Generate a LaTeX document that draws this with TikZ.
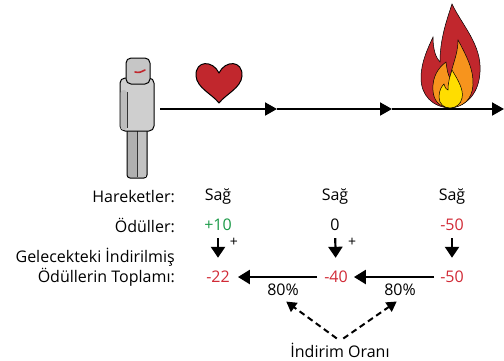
\documentclass[tikz,border=0pt]{standalone}
\usepackage{fontspec}
\setmainfont{Open Sans}
\usetikzlibrary{arrows.meta}
\definecolor{rewred}{HTML}{D12A36}
\definecolor{rewgreen}{HTML}{1B9A48}
\definecolor{heartred}{HTML}{C1272D}
\definecolor{flameorange}{HTML}{F7941D}
\definecolor{flameyellow}{HTML}{FFDD00}
\begin{document}
\begin{tikzpicture}[x=1pt,y=-1pt,
  lbl/.style={anchor=east,inner sep=0pt,font=\fontsize{16}{18}\selectfont},
  val/.style={inner sep=0pt,minimum height=18pt,font=\fontsize{16}{18}\selectfont},
  plus/.style={inner sep=0pt,font=\fontsize{14}{15}\selectfont},
  timeline/.style={line width=2pt,-{Triangle[length=12pt,width=13pt]}},
  downarr/.style={line width=2.2pt,-{Triangle[length=11pt,width=14pt]}},
  backarr/.style={line width=2.5pt,-{Triangle[length=12pt,width=14pt]}},
  dasharr/.style={line width=2pt,dash pattern=on 6pt off 4pt,-{Triangle[length=10pt,width=11pt]}},
  outl/.style={draw=black,line width=1pt,line join=round}]
\useasboundingbox (0,0) rectangle (504,360);

% robot: legs, body, head
\filldraw[outl,fill=gray!62,rounded corners=3pt] (127,124) rectangle (147,178);
\fill[gray!48] (137.5,128) rectangle (146.3,177);
\draw[line width=0.6pt,gray!40!black] (137.5,128) -- (137.5,177);
\filldraw[outl,fill=gray!38,rounded corners=5pt] (120,78) rectangle (154,131);
\fill[gray!52,rounded corners=3pt] (120.6,90) rectangle (127,130);
\draw[line width=0.6pt,gray!40!black] (127,92) -- (127,128);
\filldraw[outl,fill=gray!45,rounded corners=5pt] (126,58) rectangle (150,84);
\draw[heartred,line width=1.6pt,line cap=round] (135,72) .. controls (139,73) and (142,72) .. (145,70);

% heart
\filldraw[outl,fill=heartred] (219,73)
  .. controls (213,60) and (195,60) .. (196,76)
  .. controls (197,88) and (212,94) .. (219,103)
  .. controls (226,94) and (241,88) .. (242,76)
  .. controls (243,60) and (225,60) .. (219,73) -- cycle;

% fire
\filldraw[draw=black,line width=0.5pt,fill=heartred] (452,4)
  .. controls (462,25) and (482,45) .. (480,72)
  .. controls (479,92) and (468,106) .. (450,108)
  .. controls (432,107) and (421,95) .. (421,78)
  .. controls (421,62) and (428,48) .. (433,37)
  .. controls (433,50) and (436,58) .. (440,62)
  .. controls (440,40) and (446,22) .. (452,4) -- cycle;
\filldraw[draw=black,line width=0.5pt,fill=flameorange] (458,40)
  .. controls (466,55) and (474,70) .. (473,85)
  .. controls (472,100) and (463,107) .. (450,108)
  .. controls (437,107) and (432,98) .. (433,85)
  .. controls (434,72) and (442,65) .. (446,62)
  .. controls (447,70) and (448,75) .. (450,78)
  .. controls (452,65) and (458,55) .. (458,40) -- cycle;
\filldraw[draw=black,line width=0.5pt,fill=flameyellow] (452,70)
  .. controls (458,80) and (464,90) .. (462,98)
  .. controls (461,104) and (456,108) .. (450,108)
  .. controls (444,108) and (439,104) .. (439,97)
  .. controls (439,90) and (442,86) .. (444,84)
  .. controls (445,88) and (447,90) .. (448,90)
  .. controls (448,82) and (450,76) .. (452,70) -- cycle;

% timeline
\coordinate (t0) at (160,109);
\coordinate (t1) at (277,109);
\coordinate (t2) at (392,109);
\coordinate (t3) at (504,109);
\draw[timeline] (t0) -- (t1);
\draw[timeline] (t1) -- (t2);
\draw[timeline] (t2) -- (t3);

% row labels
\node[lbl] (hlab) at (175,197) {Hareketler:};
\node[lbl] (rlab) at (175,225) {Ödüller:};
\node[lbl] (glab1) at (175,257) {Gelecekteki İndirilmiş};
\node[lbl] (glab2) at (175,277) {Ödüllerin Toplamı:};

% actions
\node[val] (a1) at (218,197) {Sağ};
\node[val] (a2) at (335,197) {Sağ};
\node[val] (a3) at (452,197) {Sağ};

% rewards
\node[val,text=rewgreen] (r1) at (218,225) {+10};
\node[val] (r2) at (335,225) {0};
\node[val,text=rewred] (r3) at (452,225) {-50};

% returns
\node[val,text=rewred] (g1) at (218,277) {-22};
\node[val,text=rewred] (g2) at (336,277) {-40};
\node[val,text=rewred] (g3) at (452,277) {-50};

\draw[downarr,shorten <=4pt,shorten >=10pt] (r1) -- (g1);
\draw[downarr,shorten <=4pt,shorten >=10pt] (r2) -- (g2);
\draw[downarr,shorten <=4pt,shorten >=10pt] (r3) -- (g3);
\node[plus] (p1) at (234,242) {+};
\node[plus] (p2) at (352,242) {+};

\draw[backarr,shorten <=6pt,shorten >=6pt] (g3) -- (g2);
\draw[backarr,shorten <=7pt,shorten >=8pt] (g2) -- (g1);

% discount factor
\node[val] (d1) at (283,290) {80\%};
\node[val] (d2) at (400,290) {80\%};
\node[val] (io) at (340,350) {İndirim Oranı};
\draw[dasharr,shorten <=4pt,shorten >=4pt] (io.north) -- (d1.south);
\draw[dasharr,shorten <=4pt,shorten >=4pt] (io.north) -- (d2.south);
\end{tikzpicture}
\end{document}
